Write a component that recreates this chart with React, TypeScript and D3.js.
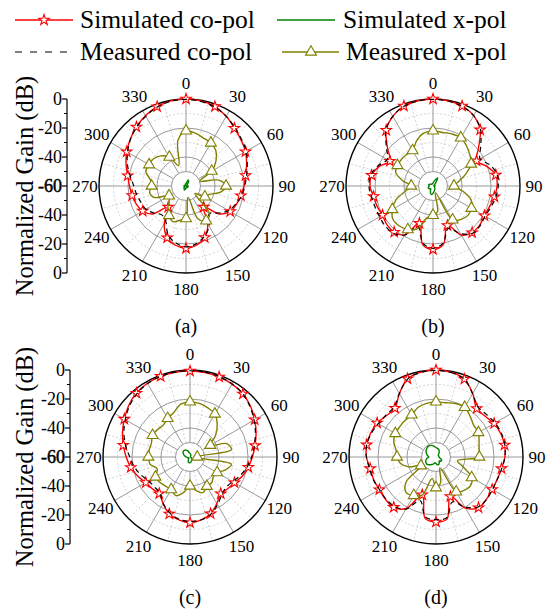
import React from 'react';
import * as d3 from 'd3';

// angles in degrees, clockwise from top
const angles = [0, 10, 20, 30, 40, 50, 60, 70, 80, 90, 100, 110, 120, 130, 140, 150, 160, 170,
  180, 190, 200, 210, 220, 230, 240, 250, 260, 270, 280, 290, 300, 310, 320, 330, 340, 350];

// (a)
const simCoA = [0, -0.4, -1.7, -4.5, -8, -10.5, -12.6, -15.5, -18.3, -20, -21.6, -23, -24.8, -30, -41, -30, -22.2, -18.5,
  -17, -18.5, -22, -30, -41, -30, -25.5, -23.5, -22.3, -21, -19.2, -16, -12.8, -9.8, -6.8, -4, -1.8, -0.4];
const measCoA = [-0.3, -0.8, -2, -4.5, -7.5, -10, -12, -15, -17.5, -19.5, -21, -23.5, -26, -31, -35, -28, -23, -19.5,
  -18, -20, -24, -32, -34, -31, -28, -27, -25.5, -24, -21, -17, -13.5, -10, -7, -4.5, -2, -0.6];
const simXA = [-58.5, -57.5, -55.5, -56.5, -58.5, -59, -59.5, -59.5, -59, -58.5, -58.5, -59, -58.5, -59, -58.5, -59, -59.5, -59,
  -58.5, -58, -57, -57.5, -58.5, -58, -58.5, -59, -59, -59, -58.5, -59, -59.5, -59.5, -59.5, -59, -58.5, -58.5];
const measXA = [-22, -23, -24.8, -25.7, -28, -33, -39.5, -50, -37, -32.4, -35.8, -43, -45, -52, -34.7, -32.2, -36, -52,
  -37.5, -36, -33.8, -36.5, -40.5, -45, -46.5, -36.8, -34.5, -36.3, -35, -30.5, -30.6, -30.8, -32.9, -37, -45, -28];

// (b)
const simCoB = [0, -0.3, -1.3, -4, -9.4, -19, -25.3, -20.5, -16, -15.8, -17, -18.5, -19, -18, -18, -21, -31, -19,
  -16.3, -19, -32.6, -21, -18.4, -18.5, -19.8, -19, -18.4, -16.5, -17, -20.5, -25.7, -19, -9.8, -4.5, -1.3, -0.3];
const measCoB = [-0.2, -0.5, -1.5, -4, -9, -17, -22.5, -18, -15, -15, -16, -17.5, -18.5, -17.5, -17.5, -22, -29, -20,
  -17, -20, -30, -21, -17.5, -17, -17.5, -17.5, -17, -15.8, -16.5, -19.5, -23.5, -18, -9.5, -4.5, -1.5, -0.5];
const simXB = [-58, -57, -55.5, -53.5, -57, -58.5, -59, -59.5, -59, -58.5, -59, -59, -59, -58.5, -58, -57.5, -57, -56,
  -55, -54, -55, -56.5, -57.5, -57, -56.5, -56.5, -57, -57.5, -57, -57, -57.5, -58, -58.5, -58.5, -58.5, -58.5];
const measXB = [-22, -22.5, -21.8, -21.6, -24, -26.8, -29.6, -36, -42, -45.5, -39, -32, -29.4, -28.5, -30, -33, -55, -42,
  -39.8, -38, -28.5, -25.3, -24, -24, -27.6, -33, -41, -45, -38.8, -32.6, -31.7, -31.5, -31.7, -31.8, -26.9, -23];

// (c)
const simCoC = [-0.7, -0.8, -1.2, -2, -3.2, -5.5, -8.5, -11.5, -14.5, -17, -19.2, -21.5, -24.6, -26, -27, -23, -18.4, -16,
  -14.7, -16, -18.2, -23, -27, -26, -24.8, -21.5, -18.5, -16, -13.3, -10.5, -7.7, -4.8, -2.5, -1.3, -0.8, -0.7];
const measCoC = [-0.5, -0.6, -1, -1.8, -3.2, -6, -9, -12, -15, -17.5, -20, -23, -26, -27.5, -26, -22, -18, -16,
  -15.5, -16.5, -19, -23, -27.5, -28, -27, -24, -21, -18.5, -15, -11.5, -8.5, -5.5, -3, -1.5, -0.8, -0.5];
const simXC = [-57.5, -58, -58.5, -59, -59.5, -59.5, -59.5, -59.5, -59.5, -59.5, -59.5, -59.5, -59, -58.5, -58, -57.5, -57, -56.5,
  -56, -56, -56.5, -58, -58.5, -59, -59, -58.5, -58, -57.5, -56.5, -55.5, -54.5, -54, -54, -54.5, -55.5, -57];
const measXC = [-22, -22.5, -24, -25.7, -30.8, -37, -43.8, -33, -31, -55, -31, -34, -38.4, -38.9, -36.8, -36.7, -33.8, -36.6,
  -40, -35.2, -31.6, -34, -33.8, -32.8, -32.5, -36, -32, -31.3, -31.5, -31.7, -30.2, -30.7, -31.3, -29.2, -27.3, -23];

// (d)
const simCoD = [0, -0.6, -2.8, -9.5, -16.3, -16, -13.7, -12.5, -12, -12.5, -14.1, -15, -15.3, -14.6, -14.4, -19.3, -31, -16.5,
  -15.2, -17, -32.3, -19, -14.7, -14.5, -14.9, -14.3, -13.9, -12, -11.5, -12, -13.1, -15.5, -16, -9.5, -2.6, -0.6];
const measCoD = [-0.3, -0.8, -3, -9.5, -15, -14.5, -13, -12, -11.8, -12.5, -14, -15, -15, -14.5, -15, -20, -27, -17.5,
  -16.8, -18, -28, -18.5, -15.5, -15, -15, -14, -13.5, -12, -11.5, -12.5, -14, -15, -15, -9.5, -2.8, -0.7];
const simXD = [-53.5, -54, -54.5, -55.5, -57, -58, -58, -58, -58, -58, -57.5, -56.5, -55.5, -55.5, -56.5, -55.5, -54.5, -54.5,
  -55.5, -56, -55, -54, -53, -52, -52, -52.5, -53.5, -55, -54, -53, -52, -51.5, -51, -51, -51.5, -52.5];
const measXD = [-22, -22, -20.7, -20.4, -23.4, -26, -26.2, -28.4, -29.8, -30.1, -45, -40, -31.6, -29, -30, -32.2, -52, -42,
  -38.8, -45, -32, -29.4, -28, -33, -48, -40, -35, -33.1, -32, -29, -27.6, -27.4, -27, -26.4, -23.7, -22.5];

const panelLabels = ['(a)', '(b)', '(c)', '(d)'];
const angleLabels = ['0', '30', '60', '90', '120', '150', '180', '210', '240', '270', '300', '330'];
const gainTicks = ['0', '-20', '-40', '-60', '-40', '-20', '0'];
const legendLabels = ['Simulated co-pol', 'Simulated x-pol', 'Measured co-pol', 'Measured x-pol'];

const RED = '#ff0000';
const GREEN = '#008000';
const OLIVE = '#808000';
const FONT = '"Liberation Serif", "Times New Roman", serif';

const R = 87;
const rScale = d3.scaleLinear().domain([-60, 0]).range([0, R]);
const rad = (deg: number) => (deg * Math.PI) / 180;

const panels = [
  { cx: 186, cy: 186, simCo: simCoA, measCo: measCoA, simX: simXA, measX: measXA },
  { cx: 433, cy: 186, simCo: simCoB, measCo: measCoB, simX: simXB, measX: measXB },
  { cx: 190, cy: 457, simCo: simCoC, measCo: measCoC, simX: simXC, measX: measXC },
  { cx: 436, cy: 457, simCo: simCoD, measCo: measCoD, simX: simXD, measX: measXD },
];

const line = d3.lineRadial<number>()
  .angle((_, i) => rad(angles[i]))
  .radius(v => rScale(v))
  .curve(d3.curveCatmullRomClosed.alpha(0.5));

const starPath = d3.symbol(d3.symbolStar, 34)() as string;
const triPath = d3.symbol(d3.symbolTriangle, 52)() as string;

const pt = (deg: number, r: number) => [r * Math.sin(rad(deg)), -r * Math.cos(rad(deg))];

const PolarPanel = ({ p, label }: { p: typeof panels[0]; label: string }) => {
  const r0 = rScale(-50);
  return (
    <g transform={`translate(${p.cx},${p.cy})`}>
      {/* grid */}
      {[-10, -30].map(v => (
        <circle key={v} r={rScale(v)} fill="none" stroke="#c8c8c8" strokeWidth={0.8} strokeDasharray="2,2" />
      ))}
      {d3.range(15, 360, 30).map(a => {
        const [x1, y1] = pt(a, r0);
        const [x2, y2] = pt(a, R);
        return <line key={a} x1={x1} y1={y1} x2={x2} y2={y2} stroke="#c8c8c8" strokeWidth={0.8} strokeDasharray="2,2" />;
      })}
      {[-50, -40, -20].map(v => (
        <circle key={v} r={rScale(v)} fill="none" stroke="#8c8c8c" strokeWidth={0.9} />
      ))}
      {d3.range(0, 360, 30).map(a => {
        const [x1, y1] = pt(a, r0);
        const [x2, y2] = pt(a, R);
        return <line key={a} x1={x1} y1={y1} x2={x2} y2={y2} stroke="#8c8c8c" strokeWidth={0.9} />;
      })}
      <circle r={R} fill="none" stroke="#000" strokeWidth={1.4} />
      {angleLabels.map((t, i) => {
        const side = i % 6 === 3;
        const [x, y] = pt(i * 30, side ? R + 14 : R + 16);
        return (
          <text key={t} x={x} y={y} textAnchor="middle" dominantBaseline="central"
            fontFamily={FONT} fontSize={17}>{t}</text>
        );
      })}

      {/* curves */}
      <path d={line(p.simCo) as string} fill="none" stroke={RED} strokeWidth={1.4} />
      {p.simCo.map((v, i) => angles[i] % 20 === 0 ? (
        <path key={i} d={starPath} transform={`translate(${pt(angles[i], rScale(v)).join(',')})`}
          fill="#fff" stroke={RED} strokeWidth={1.1} />
      ) : null)}
      <path d={line(p.simX) as string} fill="none" stroke={GREEN} strokeWidth={1.4} />
      <path d={line(p.measCo) as string} fill="none" stroke="#000" strokeWidth={1.2} strokeDasharray="5,4" />
      <path d={line(p.measX) as string} fill="none" stroke={OLIVE} strokeWidth={1.4} />
      {p.measX.map((v, i) => angles[i] % 30 === 0 ? (
        <path key={i} d={triPath} transform={`translate(${pt(angles[i], rScale(v)).join(',')})`}
          fill="#fff" stroke={OLIVE} strokeWidth={1.1} />
      ) : null)}

      <text x={0} y={R + 53} textAnchor="middle" dominantBaseline="central" fontFamily={FONT} fontSize={20}>{label}</text>
    </g>
  );
};

const GainAxis = ({ x, cy }: { x: number; cy: number }) => {
  const y = d3.scaleLinear().domain([0, gainTicks.length - 1]).range([cy - R, cy + R]);
  return (
    <g>
      <line x1={x} x2={x} y1={cy - R} y2={cy + R} stroke="#000" strokeWidth={1.2} />
      {gainTicks.map((t, i) => (
        <g key={i}>
          <line x1={x - 5} x2={x} y1={y(i)} y2={y(i)} stroke="#000" strokeWidth={1.2} />
          <text x={x - 5} y={y(i)} textAnchor="end" dominantBaseline="central" fontFamily={FONT} fontSize={18}
            stroke={t === '-60' ? '#000' : 'none'} strokeWidth={0.5}>{t}</text>
        </g>
      ))}
      {d3.range(0.5, gainTicks.length - 1, 1).map(i => (
        <line key={i} x1={x - 3} x2={x} y1={y(i)} y2={y(i)} stroke="#000" strokeWidth={1} />
      ))}
      <text transform={`translate(24,${cy}) rotate(-90)`} textAnchor="middle" dominantBaseline="central"
        fontFamily={FONT} fontSize={24.5}>Normalized Gain (dB)</text>
    </g>
  );
};

const Legend = () => (
  <g fontFamily={FONT} fontSize={25.5}>
    <line x1={15} x2={73} y1={20} y2={20} stroke={RED} strokeWidth={1.5} />
    <path d={starPath} transform="translate(44,20)" fill="#fff" stroke={RED} strokeWidth={1.1} />
    <text x={80} y={28}>{legendLabels[0]}</text>
    <line x1={277} x2={335} y1={20} y2={20} stroke={GREEN} strokeWidth={1.5} />
    <text x={343} y={28}>{legendLabels[1]}</text>
    <line x1={15} x2={68} y1={52} y2={52} stroke="#000" strokeWidth={1.2} strokeDasharray="7,8" />
    <text x={80} y={60}>{legendLabels[2]}</text>
    <line x1={282} x2={339} y1={52} y2={52} stroke={OLIVE} strokeWidth={1.5} />
    <path d={triPath} transform="translate(311,52)" fill="#fff" stroke={OLIVE} strokeWidth={1.1} />
    <text x={346} y={60}>{legendLabels[3]}</text>
  </g>
);

export default function App() {
  return (
    <div style={{ position: 'absolute', left: 0, top: 0 }}>
      <svg width={547} height={612} style={{ display: 'block', background: '#fff' }}>
        <Legend />
        <GainAxis x={67} cy={186} />
        <GainAxis x={70} cy={457} />
        {panels.map((p, i) => <PolarPanel key={i} p={p} label={panelLabels[i]} />)}
      </svg>
    </div>
  );
}
